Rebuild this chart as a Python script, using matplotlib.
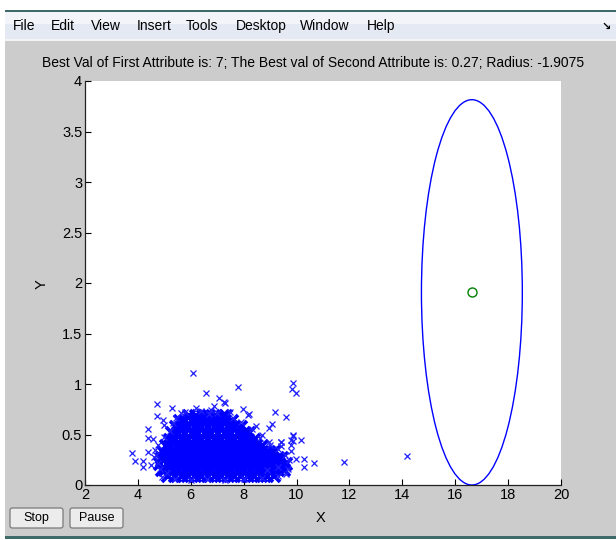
import matplotlib
matplotlib.use("Agg")
import matplotlib.pyplot as plt
from matplotlib.patches import Rectangle, FancyBboxPatch, Ellipse

plt.rcParams['font.family'] = ['Liberation Sans', 'DejaVu Sans']

# ---------------- data ----------------
title_text = "Best Val of First Attribute is: 7; The Best val of Second Attribute is: 0.27; Radius: -1.9075"
menu_items = ["File", "Edit", "View", "Insert", "Tools", "Desktop", "Window", "Help"]
x_ticks = [2, 4, 6, 8, 10, 12, 14, 16, 18, 20]
y_ticks = [0, 0.5, 1, 1.5, 2, 2.5, 3, 3.5, 4]
y_tick_labels = ["0", "0.5", "1", "1.5", "2", "2.5", "3", "3.5", "4"]

# dense core of the sample cloud (rows of points)
core_rows_y = [0.09, 0.15, 0.21, 0.27, 0.33, 0.39, 0.45, 0.51, 0.57, 0.63, 0.68]
core_rows_x = [
    [5.15, 5.4, 5.65, 5.9, 6.15, 6.4, 6.65, 6.9, 7.15, 7.4, 7.65, 7.9, 8.15, 8.4, 8.65, 8.9, 9.15],
    [4.9, 5.03, 5.28, 5.53, 5.78, 6.03, 6.28, 6.53, 6.78, 7.03, 7.28, 7.53, 7.78, 8.03, 8.28, 8.53,
     8.78, 9.03, 9.28, 9.53],
    [4.85, 5.1, 5.35, 5.6, 5.85, 6.1, 6.35, 6.6, 6.85, 7.1, 7.35, 7.6, 7.85, 8.1, 8.35, 8.6, 8.85,
     9.1, 9.35, 9.6],
    [4.9, 5.03, 5.28, 5.53, 5.78, 6.03, 6.28, 6.53, 6.78, 7.03, 7.28, 7.53, 7.78, 8.03, 8.28, 8.53,
     8.78, 9.03, 9.28, 9.45],
    [4.95, 5.2, 5.45, 5.7, 5.95, 6.2, 6.45, 6.7, 6.95, 7.2, 7.45, 7.7, 7.95, 8.2, 8.45, 8.7, 8.95, 9.15],
    [5.05, 5.23, 5.48, 5.73, 5.98, 6.23, 6.48, 6.73, 6.98, 7.23, 7.48, 7.73, 7.98, 8.23, 8.48, 8.7],
    [5.2, 5.4, 5.65, 5.9, 6.15, 6.4, 6.65, 6.9, 7.15, 7.4, 7.65, 7.9, 8.15, 8.4],
    [5.3, 5.53, 5.78, 6.03, 6.28, 6.53, 6.78, 7.03, 7.28, 7.53, 7.78, 8.03, 8.2],
    [5.45, 5.65, 5.9, 6.15, 6.4, 6.65, 6.9, 7.15, 7.4, 7.65, 7.9],
    [5.6, 5.78, 6.03, 6.28, 6.53, 6.78, 7.03, 7.28, 7.55],
    [5.95, 6.2, 6.45, 6.7, 6.95, 7.2, 7.35],
]

# scattered points around the core and outliers
edge_x = [6.07, 7.77, 9.88, 9.82, 9.98, 6.58, 7.08, 7.27, 4.71, 4.73, 4.37, 4.40, 3.79, 3.89,
          4.21, 4.21, 4.50, 9.20, 9.59, 10.17, 10.30, 10.30, 10.67, 9.09, 9.40, 9.40, 9.85, 9.85,
          5.29, 5.63, 6.20, 6.77, 7.48, 7.99, 8.21, 11.80, 14.19,
          4.94, 4.37, 4.58, 5.00, 5.34, 4.84, 5.09, 7.30, 6.89, 8.18, 8.97, 8.47, 8.68, 8.97,
          9.41, 9.88, 9.79, 9.79, 9.79, 9.98, 9.69, 9.31, 8.87,
          5.45, 5.80, 6.40, 6.70, 7.00, 7.60, 7.90, 8.30, 8.60, 9.00, 9.30, 9.55, 9.70, 4.75,
          4.70, 4.75, 4.90, 5.40, 6.00, 6.60, 7.30, 8.00, 8.70, 9.30, 9.60, 4.60, 4.65, 5.00, 5.20]
edge_y = [1.11, 0.97, 1.01, 0.95, 0.91, 0.91, 0.86, 0.82, 0.80, 0.68, 0.55, 0.47, 0.32, 0.24,
          0.24, 0.18, 0.20, 0.72, 0.67, 0.45, 0.26, 0.18, 0.22, 0.60, 0.43, 0.39, 0.49, 0.44,
          0.76, 0.71, 0.76, 0.74, 0.72, 0.75, 0.70, 0.23, 0.29,
          0.64, 0.33, 0.46, 0.59, 0.61, 0.16, 0.12, 0.81, 0.78, 0.69, 0.56, 0.58, 0.50, 0.43,
          0.43, 0.50, 0.45, 0.40, 0.34, 0.26, 0.16, 0.18, 0.15,
          0.66, 0.72, 0.73, 0.70, 0.71, 0.66, 0.62, 0.55, 0.47, 0.40, 0.36, 0.30, 0.25, 0.40,
          0.30, 0.22, 0.08, 0.06, 0.05, 0.06, 0.05, 0.06, 0.07, 0.09, 0.11, 0.28, 0.35, 0.48, 0.53]

center_x = 16.63
center_y = 1.9075
radius = 1.9075

# ---------------- figure ----------------
W, H = 616, 540
fig = plt.figure(figsize=(W / 100, H / 100), dpi=100, facecolor="white")

def fx(px):
    return px / W

def fy(py):
    return 1 - py / H

# window chrome
def rect(x0, y_top, w, h, color, z):
    fig.patches.append(Rectangle((fx(x0), fy(y_top + h)), w / W, h / H, transform=fig.transFigure,
                                 facecolor=color, edgecolor="none", zorder=z))

rect(5, 0, 611, 540, "#cccccc", 0)
rect(5, 11, 611, 28, "#e4e9f3", 1)
rect(5, 11, 611, 13, "#f2f4f9", 1)
rect(5, 39, 611, 1.5, "#f4f4f4", 2)
rect(5, 10, 611, 1.5, "#3f6a6a", 2)
rect(0, 0, 616, 10, "#ffffff", 2)
rect(5, 536, 611, 2.5, "#3f6a6a", 2)
rect(0, 538.5, 616, 1.5, "#ffffff", 2)

menu_px = [13, 51, 91, 137, 186, 236, 300, 367]
for item, px in zip(menu_items, menu_px):
    fig.text(fx(px), fy(26), item, fontsize=10, ha="left", va="center", color="black", zorder=3)
fig.text(fx(606), fy(27), "\u2198", fontsize=8, ha="center", va="center", color="black",
         fontweight="bold", zorder=3, family=["DejaVu Sans"])

# buttons
for label, x0, x1 in [("Stop", 10, 63), ("Pause", 70, 123)]:
    fig.patches.append(FancyBboxPatch((fx(x0), fy(528)), (x1 - x0) / W, 20 / H,
                                      boxstyle="round,pad=0,rounding_size=0.004",
                                      transform=fig.transFigure, facecolor="#ececec",
                                      edgecolor="#7a7a7a", linewidth=0.9, zorder=3))
    fig.text(fx((x0 + x1) / 2), fy(518), label, fontsize=9, ha="center", va="center",
             color="black", zorder=4)

# axes
ax = fig.add_axes([fx(85), fy(485), (561 - 85) / W, (485 - 81) / H])
ax.set_zorder(10)
ax.set_facecolor("white")

for ys, xs in zip(core_rows_y, core_rows_x):
    ax.plot(xs, [ys] * len(xs), linestyle="none", marker="x", markersize=8.5,
            markeredgewidth=2.6, color="#0000ff", zorder=3)
ax.plot(edge_x, edge_y, linestyle="none", marker="x", markersize=5,
        markeredgewidth=0.9, color="#1f1fff", zorder=3)

ax.add_patch(Ellipse((center_x, center_y), 2 * radius, 2 * radius, fill=False,
                     edgecolor="#0000ff", linewidth=1.0, zorder=4))
ax.plot([center_x], [center_y], linestyle="none", marker="o", markersize=6.5,
        markerfacecolor="none", markeredgecolor="#008000", markeredgewidth=1.0, zorder=5)

ax.set_xlim(2, 20)
ax.set_ylim(0, 4)
ax.set_xticks(x_ticks)
ax.set_xticklabels([str(t) for t in x_ticks])
ax.set_yticks(y_ticks)
ax.set_yticklabels(y_tick_labels)
ax.tick_params(direction="in", length=4, width=0.8, labelsize=10.5, colors="black", pad=2)
for side in ["top", "right"]:
    ax.spines[side].set_visible(False)
for side in ["left", "bottom"]:
    ax.spines[side].set_color("#222222")
    ax.spines[side].set_linewidth(0.9)

fig.text(fx(313), fy(63), title_text, fontsize=10, ha="center", va="center", color="black")
fig.text(fx(321), fy(518), "X", fontsize=10.5, ha="center", va="center", color="black")
fig.text(fx(42), fy(284), "Y", fontsize=10.5, ha="center", va="center", color="black", rotation=90)

fig.savefig("out.png", dpi=100, facecolor=fig.get_facecolor())
